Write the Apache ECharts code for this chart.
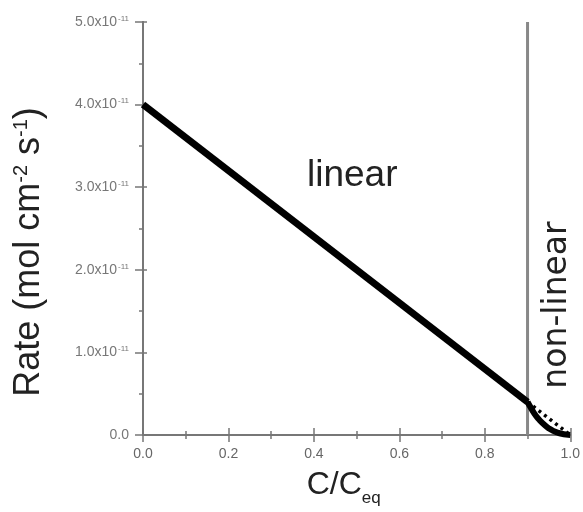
<!DOCTYPE html>
<html>
<head>
<meta charset="utf-8">
<script src="https://cdn.jsdelivr.net/npm/echarts@6/dist/echarts.min.js"></script>
<style>
  html, body { margin: 0; padding: 0; background: #fff; }
  #chart { width: 583px; height: 512px; }
</style>
</head>
<body>
<div id="chart"></div>
<script>
// rates in units of 1e-11 mol cm^-2 s^-1
const xTicks = [0, 0.2, 0.4, 0.6, 0.8, 1.0];
const yTicks = [0, 1, 2, 3, 4, 5];

const linearC = [0, 0.9];
const linearRate = [4.0, 0.4];

const nonLinearC = [0.9, 0.91, 0.92, 0.93, 0.94, 0.95, 0.96, 0.97, 0.98, 0.99, 1.0];
const nonLinearRate = [0.4, 0.31, 0.23, 0.17, 0.12, 0.08, 0.05, 0.03, 0.015, 0.005, 0];

const dottedC = [0.9, 0.93, 0.95, 0.97, 0.99, 1.0];
const dottedRate = [0.4, 0.28, 0.2, 0.12, 0.04, 0];

const boundaryC = 0.9;

const zip = (xs, ys) => xs.map((x, i) => [x, ys[i]]);

const axisGray = '#777';
const font = 'Liberation Sans, Arial, sans-serif';

function baseX(extra) {
  return Object.assign({
    type: 'value', min: xTicks[0], max: xTicks[xTicks.length - 1], interval: 0.2,
    position: 'bottom',
    axisLine: { show: true, lineStyle: { color: axisGray, width: 2 } },
    splitLine: { show: false },
    minorTick: { show: true, splitNumber: 2, length: 4, lineStyle: { color: axisGray, width: 1.5 } }
  }, extra);
}
function baseY(extra) {
  return Object.assign({
    type: 'value', min: yTicks[0], max: yTicks[yTicks.length - 1], interval: 1,
    axisLine: { show: true, lineStyle: { color: axisGray, width: 2 } },
    splitLine: { show: false },
    minorTick: { show: true, splitNumber: 2, length: 4, lineStyle: { color: axisGray, width: 1.5 } }
  }, extra);
}

const chart = echarts.init(document.getElementById('chart'));
chart.setOption({
  animation: false,
  backgroundColor: '#fff',
  grid: { left: 143, right: 7, top: 22, bottom: 62, containLabel: false },
  xAxis: [
    baseX({
      axisTick: { show: true, length: 7, lineStyle: { color: axisGray, width: 1.5 } },
      axisLabel: {
        fontFamily: font, fontSize: 14, color: '#666', margin: 12,
        formatter: v => v.toFixed(1)
      },
      name: '{m|C/C}{s|eq}',
      nameLocation: 'middle',
      nameGap: 34,
      nameTextStyle: {
        rich: {
          m: { fontFamily: font, fontSize: 32, color: '#222' },
          s: { fontFamily: font, fontSize: 17, color: '#222', verticalAlign: 'bottom', padding: [0, 0, -6, 0] }
        },
        padding: [0, 26, 0, 0]
      }
    }),
    baseX({
      axisLine: { show: false },
      axisTick: { show: true, inside: true, length: 7, lineStyle: { color: axisGray, width: 1.5 } },
      minorTick: { show: true, splitNumber: 2, length: 4, lineStyle: { color: axisGray, width: 1.5 } },
      axisLabel: { show: false }
    })
  ],
  yAxis: [
    baseY({
      position: 'left',
      axisTick: { show: true, length: 8, lineStyle: { color: axisGray, width: 1.5 } },
      axisLabel: {
        fontFamily: font, fontSize: 14, color: '#777', margin: 14,
        formatter: v => v === 0 ? '{m|0.0}' : '{m|' + v.toFixed(1) + 'x10}{s|-11}',
        rich: {
          m: { fontFamily: font, fontSize: 14, color: '#777' },
          s: { fontFamily: font, fontSize: 8, color: '#777', verticalAlign: 'top', padding: [0, 0, 7, 1] }
        }
      }
    }),
    baseY({
      position: 'right',
      axisTick: { show: true, inside: true, length: 5, lineStyle: { color: axisGray, width: 1.5 } },
      minorTick: { show: true, splitNumber: 2, length: 4, lineStyle: { color: axisGray, width: 1.5 } },
      axisLabel: { show: false }
    }),
    baseY({
      position: 'left',
      axisLine: { show: false },
      axisTick: { show: true, inside: true, length: 4, lineStyle: { color: axisGray, width: 1.5 } },
      minorTick: { show: false },
      axisLabel: { show: false }
    })
  ],
  graphic: [
    {
      type: 'text', left: 307, top: 157,
      style: { text: 'linear', fontFamily: font, fontSize: 37, fill: '#222' }
    },
    {
      type: 'text', x: 557, y: 305, rotation: Math.PI / 2,
      style: {
        text: 'non-linear', fontFamily: 'DejaVu Sans, sans-serif', fontSize: 33, fill: '#222',
        align: 'center', verticalAlign: 'middle'
      }
    },
    {
      type: 'text', x: 29, y: 252, rotation: Math.PI / 2,
      style: {
        text: 'Rate (mol cm{s|-2} s{s|-1})',
        fontFamily: font, fontSize: 36, fill: '#222',
        align: 'center', verticalAlign: 'middle',
        rich: {
          s: { fontFamily: font, fontSize: 20, fill: '#222', verticalAlign: 'top', padding: [0, 0, 14, 0] }
        }
      }
    }
  ],
  series: [
    {
      name: 'boundary', type: 'line', xAxisIndex: 0, yAxisIndex: 0,
      data: [[boundaryC, yTicks[0]], [boundaryC, yTicks[yTicks.length - 1]]],
      showSymbol: false, symbol: 'none',
      lineStyle: { color: '#888', width: 3 }, z: 1
    },
    {
      name: 'linear', type: 'line', xAxisIndex: 0, yAxisIndex: 0,
      data: zip(linearC, linearRate),
      symbol: 'none', lineStyle: { color: '#000', width: 7 }, z: 3
    },
    {
      name: 'non-linear', type: 'line', xAxisIndex: 0, yAxisIndex: 0,
      data: zip(nonLinearC, nonLinearRate), smooth: true,
      symbol: 'none', lineStyle: { color: '#000', width: 6 }, z: 3
    },
    {
      name: 'linear extrapolation', type: 'line', xAxisIndex: 0, yAxisIndex: 0,
      data: zip(dottedC, dottedRate),
      symbol: 'none', lineStyle: { color: '#000', width: 3.5, type: [3, 4] }, z: 2
    }
  ]
});
</script>
</body>
</html>
